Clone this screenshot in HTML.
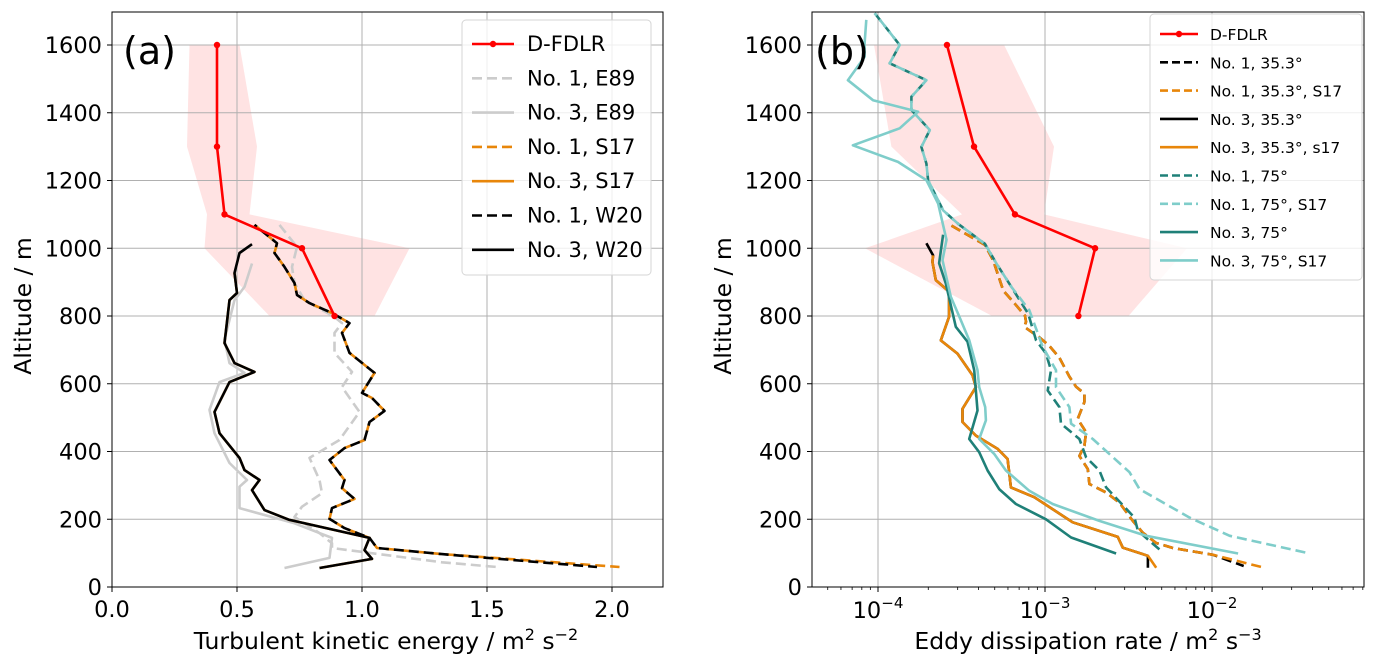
<!DOCTYPE html>
<html><head><meta charset="utf-8">
<style>
body{margin:0;background:#fff;}
svg{display:block;font-family:"DejaVu Sans","Liberation Sans",sans-serif;}
</style></head>
<body>
<svg id="fig" width="1377" height="665" viewBox="0 0 1377 665" xmlns="http://www.w3.org/2000/svg"></svg>
<script>
// ---------- Panel (a) data: [value, altitude] ----------
const aTicksX = [0.0, 0.5, 1.0, 1.5, 2.0];
const aTickLabelsX = ["0.0","0.5","1.0","1.5","2.0"];
const yTicks = [0,200,400,600,800,1000,1200,1400,1600];
const dfdlrA = [[0.42,1600],[0.42,1300],[0.45,1100],[0.76,1000],[0.89,800]];
const dfdlrAMin = [0.31,0.30,0.38,0.37,0.63];
const dfdlrAMax = [0.51,0.58,0.55,1.19,1.05];
const dfdlrAlt = [1600,1300,1100,1000,800];
const no1E89 = [[0.67,1069],[0.74,1004],[0.72,945],[0.73,897],[0.77,847],[0.89,797],[0.92,779],[0.89,750],[0.89,691],[0.96,635],[0.92,590],[0.99,517],[0.91,434],[0.79,381],[0.83,316],[0.84,277],[0.76,237],[0.73,207],[0.83,159],[0.88,129],[0.88,115],[1.32,73],[1.54,59]];
const no3E89 = [[0.56,955],[0.53,886],[0.49,847],[0.45,730],[0.47,661],[0.53,632],[0.43,605],[0.39,523],[0.41,454],[0.47,366],[0.54,316],[0.51,296],[0.51,233],[0.73,188],[0.83,159],[0.88,145],[0.87,86],[0.69,56]];
const no1W20 = [[0.57,1069],[0.66,1015],[0.65,986],[0.69,945],[0.73,897],[0.74,862],[0.79,838],[0.88,809],[0.95,779],[0.92,750],[0.95,691],[1.05,632],[1.00,573],[1.04,558],[1.09,520],[1.03,487],[1.01,434],[0.93,410],[0.87,375],[0.93,316],[0.92,292],[0.97,260],[0.88,233],[0.87,201],[0.93,174],[1.03,145],[1.06,115],[1.32,97],[1.94,59]];
const no1S17 = [[0.57,1069],[0.66,1015],[0.65,986],[0.69,945],[0.73,897],[0.74,862],[0.79,838],[0.88,809],[0.95,779],[0.92,750],[0.95,691],[1.05,632],[1.00,573],[1.04,558],[1.09,520],[1.03,487],[1.01,434],[0.93,410],[0.87,375],[0.93,316],[0.92,292],[0.97,260],[0.88,233],[0.87,201],[0.93,174],[1.03,145],[1.06,115],[1.32,97],[2.03,59]];
const no3W20 = [[0.56,1012],[0.51,986],[0.49,927],[0.50,868],[0.47,847],[0.45,720],[0.49,661],[0.57,635],[0.47,605],[0.41,517],[0.43,454],[0.51,381],[0.53,345],[0.59,316],[0.56,286],[0.61,227],[0.71,198],[1.03,145],[1.01,109],[1.04,83],[0.83,56]];
const no3S17 = no3W20.slice(2);

// ---------- Panel (b) data: [log10(epsilon), altitude] ----------
const bTickExp = [-4,-3,-2];
const dfdlrB = [[-3.587,1600],[-3.425,1300],[-3.18,1100],[-2.70,1000],[-2.80,800]];
const dfdlrBMin = [-4.024,-3.92,-3.497,-4.078,-3.317];
const dfdlrBMax = [-3.245,-2.946,-3.006,-2.15,-2.50];
const b1_353_S17 = [[-3.56,1067],[-3.36,1010],[-3.31,964],[-3.25,875],[-3.18,836],[-3.12,801],[-3.114,783],[-3.124,768],[-3.034,737],[-2.974,712],[-2.914,677],[-2.854,621],[-2.814,591],[-2.764,571],[-2.764,546],[-2.804,496],[-2.754,457],[-2.764,417],[-2.794,387],[-2.744,348],[-2.734,304],[-2.634,279],[-2.554,249],[-2.474,195],[-2.414,160],[-2.334,130],[-2.234,115],[-1.994,95],[-1.704,59]];
const b1_353 = [[-3.56,1067],[-3.36,1010],[-3.31,964],[-3.25,875],[-3.18,836],[-3.12,801],[-3.114,783],[-3.124,768],[-3.034,737],[-2.974,712],[-2.914,677],[-2.854,621],[-2.814,591],[-2.764,571],[-2.764,546],[-2.804,496],[-2.754,457],[-2.764,417],[-2.794,387],[-2.744,348],[-2.734,304],[-2.634,279],[-2.554,249],[-2.474,195],[-2.414,160],[-2.334,130],[-2.234,115],[-1.994,95],[-1.81,62]];
const b3_353 = [[-3.71,1015],[-3.67,979],[-3.674,960],[-3.654,906],[-3.574,872],[-3.574,798],[-3.624,728],[-3.524,689],[-3.434,625],[-3.414,590],[-3.494,526],[-3.494,487],[-3.414,447],[-3.284,408],[-3.224,378],[-3.204,294],[-3.064,265],[-2.834,191],[-2.564,148],[-2.534,116],[-2.384,92],[-2.384,57]];
const b3_353_S17 = [[-3.67,979],[-3.674,960],[-3.654,906],[-3.574,872],[-3.574,798],[-3.624,728],[-3.524,689],[-3.434,625],[-3.414,590],[-3.494,526],[-3.494,487],[-3.414,447],[-3.284,408],[-3.224,378],[-3.204,294],[-3.064,265],[-2.834,191],[-2.564,148],[-2.534,116],[-2.384,92],[-2.334,57]];
const b1_75 = [[-4.02,1694],[-3.87,1600],[-3.93,1546],[-3.71,1496],[-3.80,1447],[-3.80,1408],[-3.69,1349],[-3.74,1299],[-3.71,1250],[-3.70,1201],[-3.61,1112],[-3.52,1072],[-3.36,1013],[-3.29,954],[-3.20,885],[-3.10,806],[-3.054,729],[-2.994,689],[-2.964,640],[-2.984,580],[-2.914,531],[-2.904,482],[-2.794,437],[-2.754,383],[-2.674,344],[-2.634,294],[-2.464,205],[-2.444,166],[-2.294,102]];
const b1_75_S17 = [[-4.02,1694],[-3.87,1600],[-3.93,1546],[-3.71,1496],[-3.80,1447],[-3.80,1408],[-3.69,1349],[-3.74,1299],[-3.71,1250],[-3.70,1201],[-3.61,1112],[-3.52,1072],[-3.36,1013],[-3.29,954],[-3.20,885],[-3.094,817],[-3.014,709],[-2.934,640],[-2.934,590],[-2.854,531],[-2.844,482],[-2.714,437],[-2.494,339],[-2.434,289],[-2.134,205],[-1.894,151],[-1.414,99]];
const b3_75 = [[-3.61,1040],[-3.634,956],[-3.594,896],[-3.534,768],[-3.464,724],[-3.424,640],[-3.404,521],[-3.454,437],[-3.394,398],[-3.344,344],[-3.274,289],[-3.174,245],[-2.994,200],[-2.844,146],[-2.574,99]];
const b3_75_S17 = [[-4.07,1674],[-4.08,1605],[-4.08,1565],[-4.18,1496],[-4.03,1437],[-3.76,1403],[-3.87,1354],[-4.15,1304],[-3.88,1255],[-3.71,1201],[-3.64,1132],[-3.59,1025],[-3.614,965],[-3.564,857],[-3.504,788],[-3.454,729],[-3.404,640],[-3.394,590],[-3.358,531],[-3.354,492],[-3.394,437],[-3.304,393],[-3.234,344],[-3.094,284],[-2.954,245],[-2.674,195],[-2.394,151],[-1.844,99]];

// ---------- drawing ----------
const NS="http://www.w3.org/2000/svg";
const svg=document.getElementById('fig');
function mk(tag,attrs,parent){const e=document.createElementNS(NS,tag);for(const k in attrs)e.setAttribute(k,attrs[k]);(parent||svg).appendChild(e);return e;}
const TOP=12,BOT=587;
const yA=v=>BOT-v*0.33875;
const AX0=112,AX1=663;
const xA=v=>AX0+v*250;
const BX0=812,BX1=1364;
const xB=e=>878+(e+4)*167;
const RED="#ff0000",ORANGE="#e8860a",TEAL="#1f8078",CYAN="#7fcdca",GRAY="#cccccc";
const LW=2.6;

function panel(name){
  const g=mk('g',{});
  
  
  return g;
}
function poly(g,pts,fx,color,dash,off,name){
  const d=pts.map((p,i)=>(i?'L':'M')+fx(p[0]).toFixed(1)+','+yA(p[1]).toFixed(1)).join('');
  const p=mk('path',{d:d,fill:'none',stroke:color,'stroke-width':LW,'stroke-linejoin':'round'},g);
  if(dash)p.setAttribute('stroke-dasharray',dash);
  if(off)p.setAttribute('stroke-dashoffset',off);
  
  
  return p;
}
function band(g,mins,maxs,alts,fx,name){
  const pts=[];
  for(let i=0;i<alts.length;i++)pts.push(fx(maxs[i]).toFixed(1)+','+yA(alts[i]).toFixed(1));
  for(let i=alts.length-1;i>=0;i--)pts.push(fx(mins[i]).toFixed(1)+','+yA(alts[i]).toFixed(1));
  const p=mk('polygon',{points:pts.join(' '),fill:'#ffe3e3',stroke:'none'},g);
  
  
}
function dots(g,pts,fx){
  pts.forEach(p=>{const c=mk('circle',{cx:fx(p[0]),cy:yA(p[1]),r:3.2,fill:RED},g);
  
  });
}
function text(g,x,y,s,size,anchor,name){
  const t=mk('text',{x:x,y:y,'font-size':size,'text-anchor':anchor||'start',fill:'#000'},g);
  t.textContent=s;
  
  
  return t;
}
function yAxis(g,x0,x1){
  yTicks.forEach(v=>{
    mk('line',{x1:x0,x2:x1,y1:yA(v),y2:yA(v),stroke:'#b0b0b0','stroke-width':1},g);
    mk('line',{x1:x0-5,x2:x0,y1:yA(v),y2:yA(v),stroke:'#000','stroke-width':1},g);
    text(g,x0-10,yA(v)+8,String(v),22.5,'end','y-tick-label');
  });
}

// Panel A
const gA=panel('panel-a');
band(gA,dfdlrAMin,dfdlrAMax,dfdlrAlt,xA,'d-fdlr-range-band');
aTicksX.forEach((v,i)=>{
  mk('line',{x1:xA(v),x2:xA(v),y1:TOP,y2:BOT,stroke:'#b0b0b0','stroke-width':1},gA);
  mk('line',{x1:xA(v),x2:xA(v),y1:BOT,y2:BOT+5,stroke:'#000','stroke-width':1},gA);
  text(gA,xA(v),BOT+30,aTickLabelsX[i],22.5,'middle','x-tick-label');
});
yAxis(gA,AX0,AX1);
poly(gA,no1E89,xA,GRAY,'10,5',0,'no1-e89-line');
poly(gA,no3E89,xA,GRAY,null,0,'no3-e89-line');
poly(gA,no1S17,xA,ORANGE,'10,5',0,'no1-s17-line');
poly(gA,no3S17,xA,ORANGE,null,0,'no3-s17-line');
poly(gA,no1W20,xA,'#000','10,5',7,'no1-w20-line');
poly(gA,no3W20,xA,'#000',null,0,'no3-w20-line');
poly(gA,dfdlrA,xA,RED,null,0,'d-fdlr-line');
dots(gA,dfdlrA,xA);
mk('rect',{x:AX0,y:TOP,width:AX1-AX0,height:BOT-TOP,fill:'none',stroke:'#000','stroke-width':1},gA);
text(gA,123,64,'(a)',38,'start','panel-a-label');
const xtA=mk('text',{x:386,y:649,'font-size':23.5,'text-anchor':'middle'},gA);
xtA.innerHTML='Turbulent kinetic energy / m<tspan font-size="16" dy="-9">2</tspan><tspan dy="9"> s</tspan><tspan font-size="16" dy="-9">−2</tspan>';


const ytA=mk('text',{x:0,y:0,'font-size':23.5,'text-anchor':'middle',transform:'translate(31,306) rotate(-90)'},gA);
ytA.textContent='Altitude / m';



// Legend A
const legA=mk('g',{},gA);


mk('rect',{x:462,y:20,width:189,height:255,rx:4,fill:'#fff','fill-opacity':0.8,stroke:'#d5d5d5'},legA);
const legAItems=[['D-FDLR',RED,null,true],['No. 1, E89',GRAY,'10,5'],['No. 3, E89',GRAY,null],['No. 1, S17',ORANGE,'10,5'],['No. 3, S17',ORANGE,null],['No. 1, W20','#000','10,5'],['No. 3, W20','#000',null]];
legAItems.forEach((it,i)=>{
  const y=44+i*34.3;
  const l=mk('line',{x1:472,x2:514,y1:y,y2:y,stroke:it[1],'stroke-width':LW},legA);
  if(it[2])l.setAttribute('stroke-dasharray',it[2]);
  
  
  if(it[3])mk('circle',{cx:493,cy:y,r:3.2,fill:RED},legA);
  text(legA,527,y+7,it[0],21,'start','legend-entry');
});

// Panel B
const gB=panel('panel-b');
band(gB,dfdlrBMin,dfdlrBMax,dfdlrAlt,xB,'d-fdlr-range-band-b');
bTickExp.forEach(e=>{
  mk('line',{x1:xB(e),x2:xB(e),y1:TOP,y2:BOT,stroke:'#b0b0b0','stroke-width':1},gB);
  mk('line',{x1:xB(e),x2:xB(e),y1:BOT,y2:BOT+5,stroke:'#000','stroke-width':1},gB);
  const t=mk('text',{x:xB(e),y:BOT+31,'font-size':22.5,'text-anchor':'middle'},gB);
  t.innerHTML='10<tspan font-size="15" dy="-10">'+(e<0?'−':'')+Math.abs(e)+'</tspan>';
  
  
});
for(let d=-5;d<=-1;d++){for(let m=2;m<=9;m++){const x=xB(d+Math.log10(m));if(x>BX0&&x<BX1)mk('line',{x1:x,x2:x,y1:BOT,y2:BOT+3,stroke:'#000','stroke-width':0.8},gB);}}
yAxis(gB,BX0,BX1);
poly(gB,b1_353,xB,'#000','10,5',0,'no1-35-line');
poly(gB,b1_353_S17,xB,ORANGE,'10,5',0,'no1-35-s17-line');
poly(gB,b3_353,xB,'#000',null,0,'no3-35-line');
poly(gB,b3_353_S17,xB,ORANGE,null,0,'no3-35-s17-line');
poly(gB,b1_75,xB,TEAL,'10,5',0,'no1-75-line');
poly(gB,b1_75_S17,xB,CYAN,'10,5',7,'no1-75-s17-line');
poly(gB,b3_75,xB,TEAL,null,0,'no3-75-line');
poly(gB,b3_75_S17,xB,CYAN,null,0,'no3-75-s17-line');
poly(gB,dfdlrB,xB,RED,null,0,'d-fdlr-line-b');
dots(gB,dfdlrB,xB);
mk('rect',{x:BX0,y:TOP,width:BX1-BX0,height:BOT-TOP,fill:'none',stroke:'#000','stroke-width':1},gB);
text(gB,815,64,'(b)',38,'start','panel-b-label');
const xtB=mk('text',{x:1088,y:649,'font-size':23.5,'text-anchor':'middle'},gB);
xtB.innerHTML='Eddy dissipation rate / m<tspan font-size="16" dy="-9">2</tspan><tspan dy="9"> s</tspan><tspan font-size="16" dy="-9">−3</tspan>';


const ytB=mk('text',{x:0,y:0,'font-size':23.5,'text-anchor':'middle',transform:'translate(731,306) rotate(-90)'},gB);
ytB.textContent='Altitude / m';



const legB=mk('g',{},gB);


mk('rect',{x:1150,y:14,width:212,height:266,rx:4,fill:'#fff','fill-opacity':0.8,stroke:'#d5d5d5'},legB);
const legBItems=[['D-FDLR',RED,null,true],['No. 1, 35.3°','#000','8,4'],['No. 1, 35.3°, S17',ORANGE,'8,4'],['No. 3, 35.3°','#000',null],['No. 3, 35.3°, s17',ORANGE,null],['No. 1, 75°',TEAL,'8,4'],['No. 1, 75°, S17',CYAN,'8,4'],['No. 3, 75°',TEAL,null],['No. 3, 75°, S17',CYAN,null]];
legBItems.forEach((it,i)=>{
  const y=34+i*28.3;
  const l=mk('line',{x1:1160,x2:1198,y1:y,y2:y,stroke:it[1],'stroke-width':LW},legB);
  if(it[2])l.setAttribute('stroke-dasharray',it[2]);
  
  
  if(it[3])mk('circle',{cx:1179,cy:y,r:3.2,fill:RED},legB);
  text(legB,1210,y+6,it[0],15.5,'start','legend-entry');
});
</script>
</body></html>
